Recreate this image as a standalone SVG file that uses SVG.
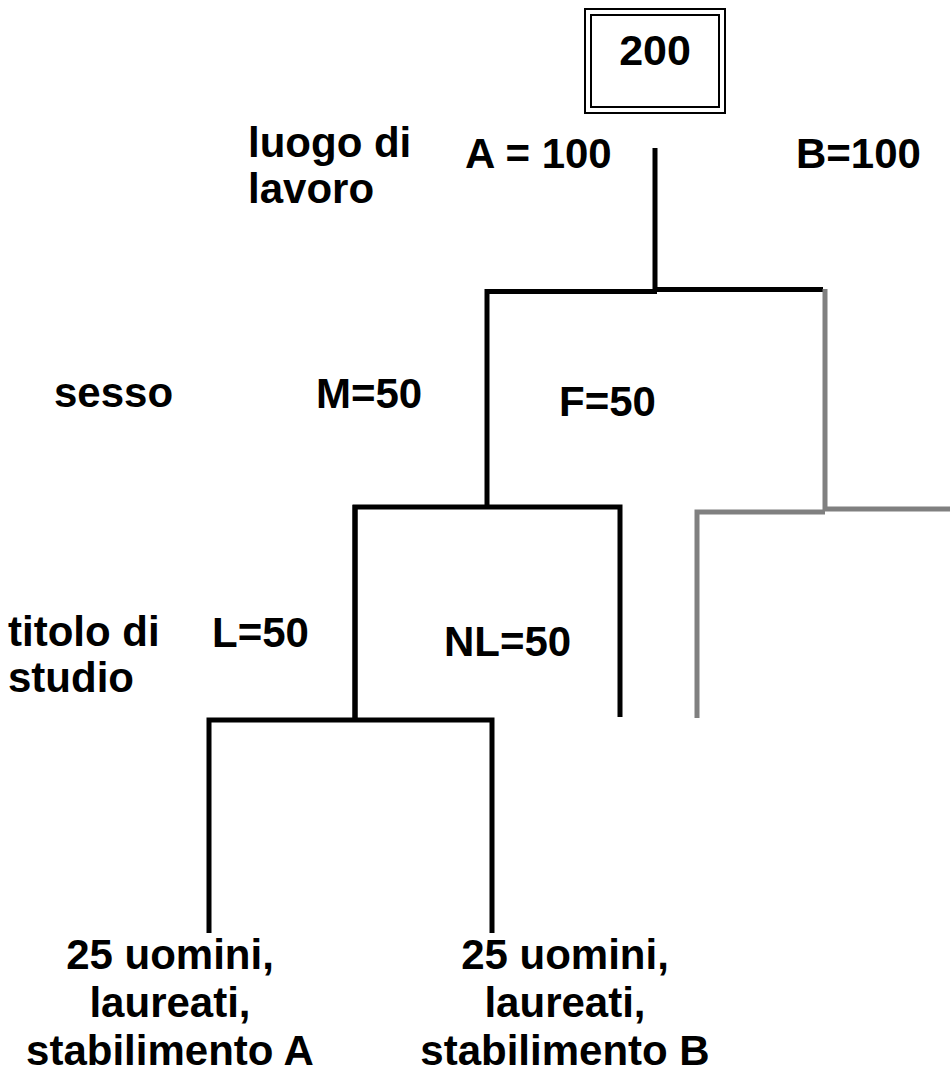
<svg xmlns="http://www.w3.org/2000/svg" width="950" height="1072" viewBox="0 0 950 1072">
  <style>
    text { font-family: "Liberation Sans", Arial, sans-serif; font-weight: bold; font-size: 42px; fill: #000; }
    .mid { text-anchor: middle; }
    .k { fill: none; stroke: #000; stroke-width: 5; }
    .g { fill: none; stroke: #808080; stroke-width: 5; }
    .frame { fill: #fff; stroke: #000; stroke-width: 2; }
  </style>
  <rect width="950" height="1072" fill="#fff"/>

  <!-- root node: total population -->
  <g id="root">
    <rect class="frame" x="585" y="9" width="140" height="104"/>
    <rect class="frame" x="591" y="15" width="128" height="92"/>
    <text class="mid" x="655" y="65" style="font-size:43px">200</text>
  </g>

  <!-- level labels -->
  <g id="label-luogo">
    <text x="248" y="157">luogo di</text>
    <text x="248" y="203">lavoro</text>
  </g>
  <g id="label-sesso">
    <text x="54" y="407">sesso</text>
  </g>
  <g id="label-titolo">
    <text x="8" y="646">titolo di</text>
    <text x="8" y="692">studio</text>
  </g>

  <!-- branch values -->
  <g id="node-a"><text x="465" y="168">A = 100</text></g>
  <g id="node-b"><text x="796" y="168">B=100</text></g>
  <g id="node-m"><text x="316" y="408">M=50</text></g>
  <g id="node-f"><text x="559" y="416">F=50</text></g>
  <g id="node-l"><text x="212" y="647">L=50</text></g>
  <g id="node-nl"><text x="444" y="656">NL=50</text></g>

  <!-- leaves -->
  <g id="leaf-a">
    <text class="mid" x="170" y="969">25 uomini,</text>
    <text class="mid" x="170" y="1017">laureati,</text>
    <text class="mid" x="170" y="1065">stabilimento A</text>
  </g>
  <g id="leaf-b">
    <text class="mid" x="565" y="969">25 uomini,</text>
    <text class="mid" x="565" y="1017">laureati,</text>
    <text class="mid" x="565" y="1065">stabilimento B</text>
  </g>

  <!-- tree connectors -->
  <g id="connectors">
    <path class="k" d="M655 148 V290"/>
    <path class="k" d="M655 289.5 H823"/>
    <path class="k" d="M487 505 V291.5 H657"/>
    <path class="g" d="M825 289 V510"/>

    <path class="k" d="M487 505 V508"/>
    <path class="k" d="M355 720 V507 H620 V717"/>
    <path class="g" d="M697 718 V512 H825"/>
    <path class="g" d="M825 509 H950"/>

    <path class="k" d="M355 505 V720"/>
    <path class="k" d="M209 933 V720 H492 V933"/>
  </g>
</svg>
